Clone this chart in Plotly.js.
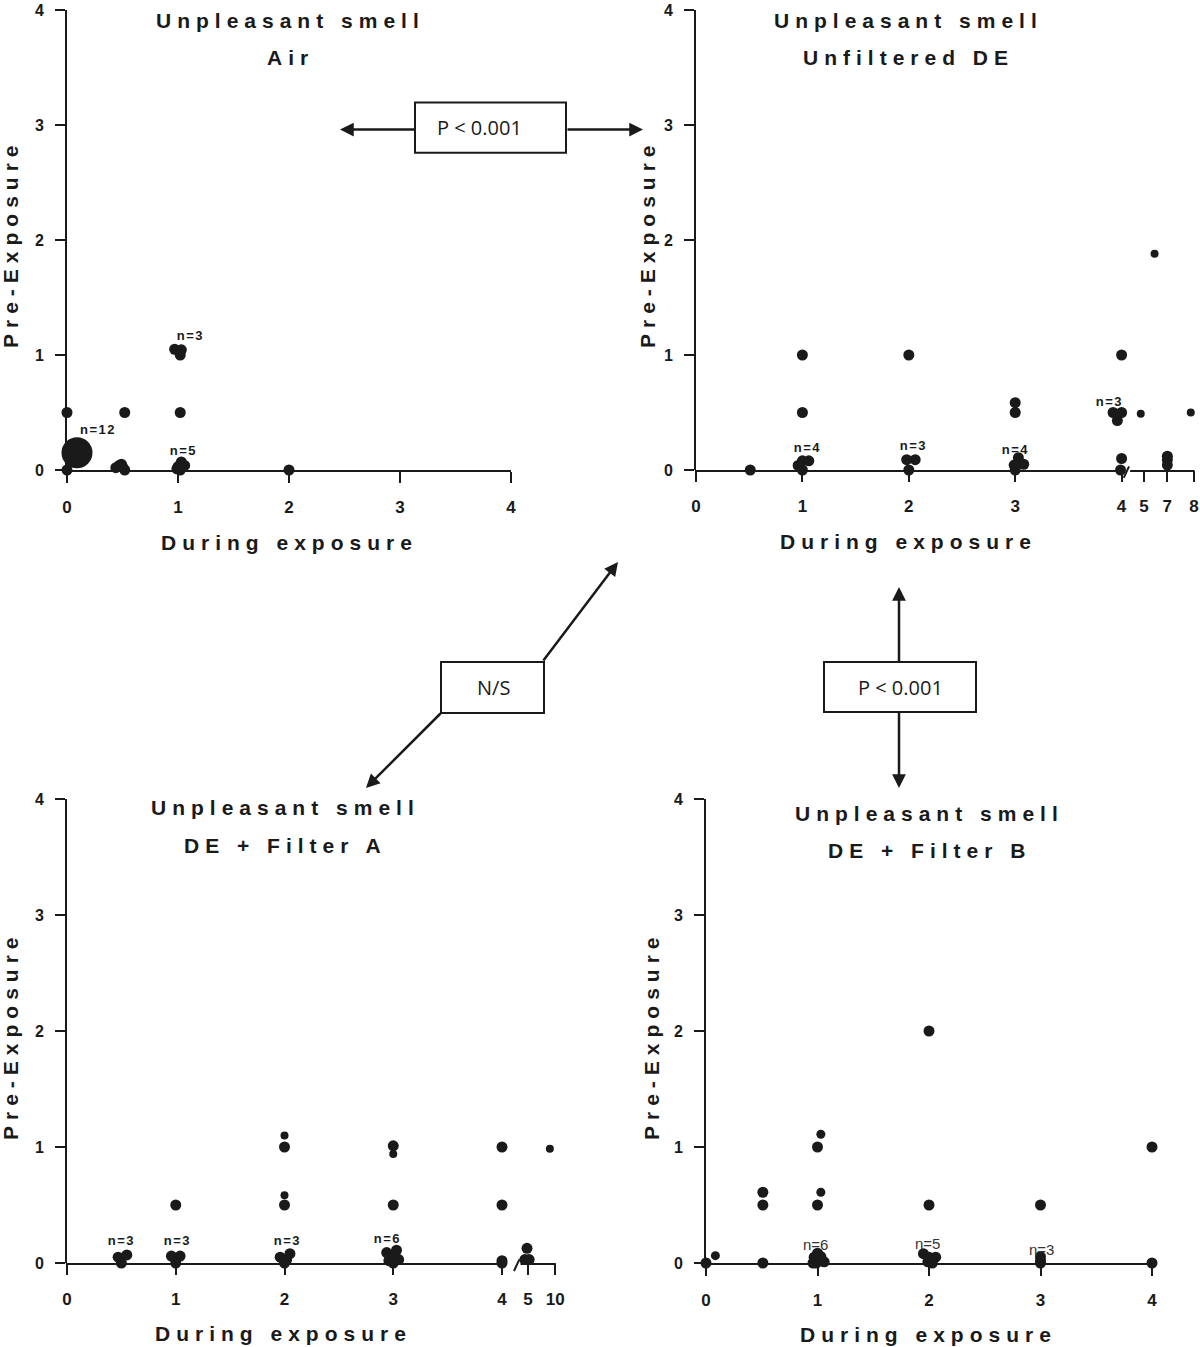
<!DOCTYPE html>
<html>
<head>
<meta charset="utf-8">
<script src="https://cdn.plot.ly/plotly-3.0.1.min.js"></script>
<style>
  html, body { margin: 0; padding: 0; background: #fff; }
  #chart { width: 1200px; height: 1347px; }
</style>
</head>
<body>
<div id="chart"></div>
<script>
// ---------------- DATA ----------------
// Panel 1: Air
const airX = [0, 0, 0.44, 0.49, 0.52, 0.5, 0.47, 0.52, 0.97, 1.03, 1.02, 1.02, 1.0, 1.03, 1.06, 0.99, 1.02, 2.0];
const airY = [0.5, 0, 0.02, 0.05, 0.0, 0.03, 0.04, 0.5, 1.05, 1.045, 1.0, 0.5, 0.03, 0.07, 0.04, 0.01, 0, 0];
const airBigX = [0.09];
const airBigY = [0.15];
const airNText = ['n=3', 'n=12', 'n=5', 'n=5'];
const airNX = [1.11, 0.28, 1.05, 0.49];
const airNY = [1.17, 0.35, 0.17, -0.2];

// Panel 2: Unfiltered DE
const deX = [0.51, 1.0, 1.0, 0.96, 1.0, 1.06, 1.0, 2.0, 1.98, 2.06, 2.0, 3.0, 3.0, 3.03, 2.99, 3.08, 3.0, 4.0, 3.92, 4.0, 3.96, 4.0, 3.99, 4.43, 4.43, 4.43];
const deY = [0, 1.0, 0.5, 0.04, 0.08, 0.08, 0, 1.0, 0.09, 0.09, 0, 0.585, 0.5, 0.107, 0.043, 0.05, 0, 1.0, 0.5, 0.5, 0.43, 0.1, 0, 0.12, 0.09, 0.043];
const deSmallX = [4.18, 4.31, 4.65];
const deSmallY = [0.49, 1.88, 0.5];
const deNText = ['n=4', 'n=3', 'n=4', 'n=3'];
const deNX = [1.055, 2.04, 3.01, 3.885];
const deNY = [0.2, 0.216, 0.18, 0.6];
const deTickVals = [0, 1, 2, 3, 4, 4.21, 4.43, 4.68];
const deTickText = ['0', '1', '2', '3', '4', '5', '7', '8'];

// Panel 3: DE + Filter A
const faX = [0.47, 0.55, 0.5, 1.0, 0.96, 1.04, 1.0, 2.0, 2.0, 1.96, 2.05, 2.0, 2.02, 3.0, 3.0, 2.94, 3.03, 2.96, 3.05, 3.0, 2.97, 4.0, 4.0, 4.0, 4.0, 4.23, 4.21, 4.25];
const faY = [0.05, 0.07, 0.0, 0.5, 0.06, 0.06, 0.0, 1.0, 0.5, 0.05, 0.08, 0.0, 0.03, 1.01, 0.5, 0.09, 0.11, 0.02, 0.03, 0.0, 0.06, 1.0, 0.5, 0.02, 0.0, 0.127, 0.03, 0.03];
const faSmallX = [2.0, 2.0, 3.0, 4.44];
const faSmallY = [1.1, 0.585, 0.94, 0.985];
const faNText = ['n=3', 'n=3', 'n=3', 'n=6'];
const faNX = [0.505, 1.018, 2.03, 2.95];
const faNY = [0.194, 0.194, 0.19, 0.21];
const faTickVals = [0, 1, 2, 3, 4, 4.24, 4.49];
const faTickText = ['0', '1', '2', '3', '4', '5', '10'];

// Panel 4: DE + Filter B
const fbX = [0, 0.51, 0.51, 0.51, 1.0, 1.0, 0.97, 1.03, 0.96, 1.06, 1.0, 0.99, 1.02, 2.0, 2.0, 1.95, 2.0, 2.06, 1.99, 2.03, 3.0, 3.0, 3.0, 3.0, 4.0, 4.01, 4.0];
const fbY = [0, 0.61, 0.5, 0, 1.0, 0.5, 0.05, 0.055, 0.0, 0.01, 0.084, 0.0, 0.02, 2.0, 0.5, 0.08, 0.05, 0.05, 0.01, 0.0, 0.5, 0.055, 0.02, 0.0, 1.0, 0.05, 0.0];
const fbSmallX = [0.084, 1.03, 1.03];
const fbSmallY = [0.063, 1.11, 0.61];
const fbNText = ['n=6', 'n=5', 'n=3'];
const fbNX = [0.98, 1.99, 3.01];
const fbNY = [0.158, 0.164, 0.115];

const yTickVals = [0, 1, 2, 3, 4];
const titleTop = 'Unpleasant smell';
const panelNames = ['Air', 'Unfiltered DE', 'DE + Filter A', 'DE + Filter B'];
const xTitle = 'During exposure';
const yTitle = 'Pre-Exposure';
const statTexts = ['P < 0.001', 'N/S', 'P < 0.001'];

// ---------------- LAYOUT HELPERS ----------------
const W = 1200, H = 1347;
const px = x => x / W;
const py = y => 1 - y / H;
const INK = '#1a1a1a';
const FONT = 'Liberation Sans, Arial, sans-serif';

// panel geometry (pixels)
const geo = [
  { x0: 67,  unit: 111,    xr: [0, 4],    yb: 470,  yt: 10 },
  { x0: 696, unit: 106.4,  xr: [0, 4.7],  yb: 470,  yt: 10 },
  { x0: 67,  unit: 108.75, xr: [0, 4.5],  yb: 1263, yt: 799 },
  { x0: 706, unit: 111.5,  xr: [0, 4],    yb: 1263, yt: 799 }
];

function xAxis(g, i, showline, tv, tt) {
  const ax = {
    domain: [px(g.x0), px(g.x0 + g.unit * (g.xr[1] - g.xr[0]))],
    range: g.xr, anchor: 'y' + (i === 0 ? '' : i + 1),
    showline: showline, linecolor: INK, linewidth: 2,
    ticks: 'outside', ticklen: 11, tickwidth: 2, tickcolor: INK,
    showgrid: false, zeroline: false, fixedrange: true,
    tickfont: { family: FONT, size: 17, color: INK, weight: 'bold' },
    ticklabelstandoff: 10, ticklabeloverflow: 'allow'
  };
  ax.tickmode = 'array';
  if (tv) { ax.tickvals = tv; ax.ticktext = tt; }
  else { ax.tickvals = [0, 1, 2, 3, 4]; }
  return ax;
}
function yAxis(g, i) {
  return {
    domain: [py(g.yb), py(g.yt)], range: [0, 4], anchor: 'x' + (i === 0 ? '' : i + 1),
    showline: true, linecolor: INK, linewidth: 2,
    ticks: 'outside', ticklen: 10, tickwidth: 2, tickcolor: INK,
    tickmode: 'array', tickvals: yTickVals,
    showgrid: false, zeroline: false, fixedrange: true,
    tickfont: { family: FONT, size: 16, color: INK, weight: 'bold' },
    ticklabelstandoff: 8, ticklabeloverflow: 'allow'
  };
}

// ---------------- TRACES ----------------
function dots(x, y, i, size) {
  const s = i === 0 ? '' : String(i + 1);
  return { type: 'scatter', mode: 'markers', x: x, y: y, xaxis: 'x' + s, yaxis: 'y' + s,
    cliponaxis: false, hoverinfo: 'skip',
    marker: { color: INK, size: size, line: { width: 0 } } };
}
const data = [
  dots(airX, airY, 0, 11), dots(airBigX, airBigY, 0, 31),
  dots(deX, deY, 1, 11), dots(deSmallX, deSmallY, 1, 8),
  dots(faX, faY, 2, 11), dots(faSmallX, faSmallY, 2, 8),
  dots(fbX, fbY, 3, 11), dots(fbSmallX, fbSmallY, 3, 9)
];

// ---------------- ANNOTATIONS ----------------
const annotations = [];
function paperText(text, x, y, size, bold, angle, fam, color) {
  annotations.push({ text: text, xref: 'paper', yref: 'paper', x: px(x), y: py(y),
    xanchor: 'center', yanchor: 'middle', showarrow: false, textangle: angle || 0,
    font: { family: fam || FONT, size: size, color: color || INK, weight: bold ? 'bold' : 'normal' } });
}
// titles
const titlePos = [[290, 20, 57], [909, 20, 57], [285, 807, 845], [929, 813, 850]];
titlePos.forEach((p, i) => {
  paperText(titleTop, p[0], p[1], 21, true);
  paperText(panelNames[i], p[0], p[2], 21, true);
});
// axis titles
[[289, 542], [908, 541], [283, 1333], [928, 1334]].forEach(p => paperText(xTitle, p[0], p[1], 21, true));
[[10, 244], [647, 244], [10, 1036], [651, 1036]].forEach(p => paperText(yTitle, p[0], p[1], 21, true, -90));

// n labels
function nLabels(txt, xs, ys, i, bold, size, color) {
  const s = i === 0 ? '' : String(i + 1);
  txt.forEach((t, k) => annotations.push({ text: t, xref: 'x' + s, yref: 'y' + s, x: xs[k], y: ys[k],
    xanchor: 'center', yanchor: 'middle', showarrow: false,
    font: { family: FONT, size: size, color: color, weight: bold ? 'bold' : 'normal' } }));
}
nLabels(airNText, airNX, airNY, 0, true, 13, INK);
nLabels(deNText, deNX, deNY, 1, true, 13, INK);
nLabels(faNText, faNX, faNY, 2, true, 13, INK);
nLabels(fbNText, fbNX, fbNY, 3, false, 15, '#333');

// stat boxes text
const BOXFONT = 'Open Sans, Noto Sans, sans-serif';
paperText(statTexts[0], 479, 128, 20, false, 0, BOXFONT);
paperText(statTexts[1], 493, 688, 20, false, 0, BOXFONT);
paperText(statTexts[2], 900, 688, 20, false, 0, BOXFONT);

// arrows: tip (x,y) and tail (tx,ty) in page pixels
function arrow(x, y, tx, ty) {
  annotations.push({ text: '', xref: 'paper', yref: 'paper', x: px(x), y: py(y),
    ax: tx - x, ay: ty - y, showarrow: true, arrowhead: 2, arrowsize: 1.1, arrowwidth: 2.5,
    arrowcolor: INK, standoff: 0, startstandoff: 0, borderpad: 0, font: { size: 1 } });
}
arrow(340, 129.5, 415, 129.5);
arrow(643, 129.5, 567, 129.5);
arrow(618, 562, 543, 661);
arrow(366, 788, 441, 713);
arrow(899, 587, 899, 662);
arrow(899, 788, 899, 712);

// ---------------- SHAPES ----------------
const shapes = [];
function rect(x0, y0, x1, y1) {
  shapes.push({ type: 'rect', xref: 'paper', yref: 'paper', x0: px(x0), x1: px(x1), y0: py(y1), y1: py(y0),
    line: { color: INK, width: 2 }, fillcolor: 'rgba(0,0,0,0)', layer: 'below' });
}
rect(415, 102.5, 566, 152.7);
rect(441, 662, 544, 713);
rect(824, 662, 976, 712);

// broken x axes for panels 2 and 3 (drawn from axis scale)
function toPx(g, vx, vy) {
  const yUnit = (g.yb - g.yt) / 4;
  return [g.x0 + vx * g.unit, g.yb + 1 - vy * yUnit];
}
function seg(g, ax0, ay0, ax1, ay1) {
  const a = toPx(g, ax0, ay0), b = toPx(g, ax1, ay1);
  shapes.push({ type: 'line', xref: 'paper', yref: 'paper', x0: px(a[0]), y0: py(a[1]), x1: px(b[0]), y1: py(b[1]),
    line: { color: INK, width: 2 } });
}
// panel 2
seg(geo[1], -0.01, 0, 4.03, 0);
seg(geo[1], 4.02, -0.06, 4.07, 0.04);
seg(geo[1], 4.08, 0, 4.685, 0);
// panel 3
seg(geo[2], -0.01, 0, 4.02, 0);
seg(geo[2], 4.11, -0.06, 4.16, 0.04);
seg(geo[2], 4.17, 0, 4.495, 0);

const layout = {
  width: W, height: H, margin: { l: 0, r: 0, t: 0, b: 0 },
  paper_bgcolor: '#fff', plot_bgcolor: 'rgba(0,0,0,0)', showlegend: false,
  font: { family: FONT, color: INK },
  xaxis: xAxis(geo[0], 0, true), yaxis: yAxis(geo[0], 0),
  xaxis2: xAxis(geo[1], 1, false, deTickVals, deTickText), yaxis2: yAxis(geo[1], 1),
  xaxis3: xAxis(geo[2], 2, false, faTickVals, faTickText), yaxis3: yAxis(geo[2], 2),
  xaxis4: xAxis(geo[3], 3, true), yaxis4: yAxis(geo[3], 3),
  annotations: annotations, shapes: shapes
};

const wide = new Set([titleTop, xTitle, yTitle].concat(panelNames));
Plotly.newPlot('chart', data, layout, { staticPlot: true, displayModeBar: false }).then(gd => {
  gd.querySelectorAll('text.annotation-text').forEach(t => {
    const s = t.textContent;
    if (wide.has(s)) t.style.letterSpacing = '6px';
    else if (/^n=/.test(s) && t.style.fontWeight !== 'normal') t.style.letterSpacing = '1.5px';
  });
});
</script>
</body>
</html>
